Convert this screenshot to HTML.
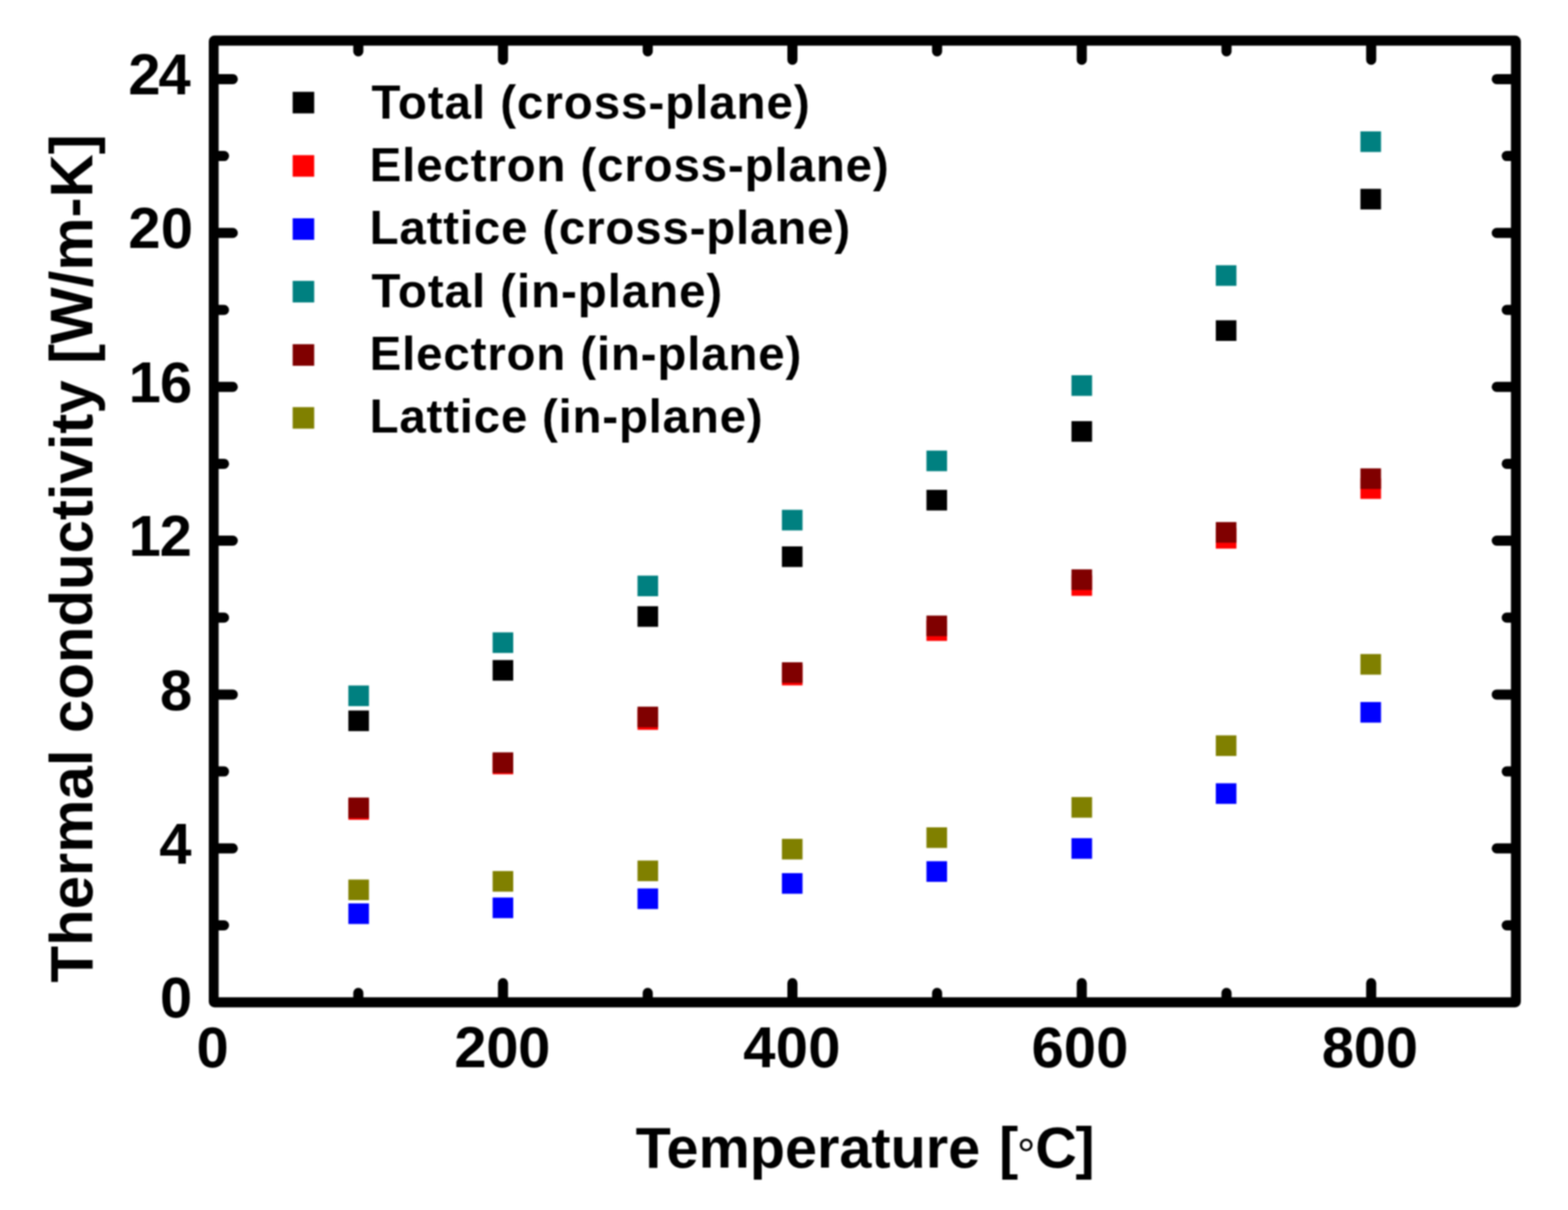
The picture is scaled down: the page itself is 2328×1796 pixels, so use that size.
<!DOCTYPE html>
<html lang="en">
<head>
<meta charset="utf-8">
<title>Thermal conductivity vs temperature</title>
<style>
html,body{margin:0;padding:0;background:#fff;}
body{width:2328px;height:1796px;overflow:hidden;}
svg{display:block;filter:blur(0.8px);}
text{font-family:"Liberation Sans",Arial,Helvetica,sans-serif;font-weight:bold;fill:#000;white-space:pre;}
.tk{font-size:86px;}
.lg{font-size:70.5px;}
.tt{font-size:85.5px;}
.yt{font-size:89px;}
</style>
</head>
<body>
<svg width="2328" height="1796" viewBox="0 0 2328 1796">
<rect x="0" y="0" width="2328" height="1796" fill="#ffffff"/>
<g>
<rect x="517.2" y="1054.6" width="30.6" height="30.6" fill="#000000"/>
<rect x="731.4" y="979.7" width="30.6" height="30.6" fill="#000000"/>
<rect x="946.5" y="899.8" width="30.6" height="30.6" fill="#000000"/>
<rect x="1160.9" y="811.0" width="30.6" height="30.6" fill="#000000"/>
<rect x="1375.5" y="727.1" width="30.6" height="30.6" fill="#000000"/>
<rect x="1590.8" y="625.1" width="30.6" height="30.6" fill="#000000"/>
<rect x="1805.1" y="475.4" width="30.6" height="30.6" fill="#000000"/>
<rect x="2019.8" y="280.3" width="30.6" height="30.6" fill="#000000"/>
<rect x="517.2" y="1186.2" width="30.6" height="30.6" fill="#ff0000"/>
<rect x="731.4" y="1118.7" width="30.6" height="30.6" fill="#ff0000"/>
<rect x="946.5" y="1052.7" width="30.6" height="30.6" fill="#ff0000"/>
<rect x="1160.9" y="986.7" width="30.6" height="30.6" fill="#ff0000"/>
<rect x="1375.5" y="920.7" width="30.6" height="30.6" fill="#ff0000"/>
<rect x="1590.8" y="853.8" width="30.6" height="30.6" fill="#ff0000"/>
<rect x="1805.1" y="783.7" width="30.6" height="30.6" fill="#ff0000"/>
<rect x="2019.8" y="709.9" width="30.6" height="30.6" fill="#ff0000"/>
<rect x="517.2" y="1340.9" width="30.6" height="30.6" fill="#0000ff"/>
<rect x="731.4" y="1332.2" width="30.6" height="30.6" fill="#0000ff"/>
<rect x="946.5" y="1318.7" width="30.6" height="30.6" fill="#0000ff"/>
<rect x="1160.9" y="1296.0" width="30.6" height="30.6" fill="#0000ff"/>
<rect x="1375.5" y="1278.3" width="30.6" height="30.6" fill="#0000ff"/>
<rect x="1590.8" y="1244.1" width="30.6" height="30.6" fill="#0000ff"/>
<rect x="1805.1" y="1162.6" width="30.6" height="30.6" fill="#0000ff"/>
<rect x="2019.8" y="1042.0" width="30.6" height="30.6" fill="#0000ff"/>
<rect x="517.2" y="1017.5" width="30.6" height="30.6" fill="#008080"/>
<rect x="731.4" y="938.6" width="30.6" height="30.6" fill="#008080"/>
<rect x="946.5" y="854.4" width="30.6" height="30.6" fill="#008080"/>
<rect x="1160.9" y="756.7" width="30.6" height="30.6" fill="#008080"/>
<rect x="1375.5" y="668.8" width="30.6" height="30.6" fill="#008080"/>
<rect x="1590.8" y="557.0" width="30.6" height="30.6" fill="#008080"/>
<rect x="1805.1" y="393.7" width="30.6" height="30.6" fill="#008080"/>
<rect x="2019.8" y="195.0" width="30.6" height="30.6" fill="#008080"/>
<rect x="517.2" y="1183.8" width="30.6" height="30.6" fill="#800000"/>
<rect x="731.4" y="1116.7" width="30.6" height="30.6" fill="#800000"/>
<rect x="946.5" y="1048.9" width="30.6" height="30.6" fill="#800000"/>
<rect x="1160.9" y="983.0" width="30.6" height="30.6" fill="#800000"/>
<rect x="1375.5" y="913.7" width="30.6" height="30.6" fill="#800000"/>
<rect x="1590.8" y="845.1" width="30.6" height="30.6" fill="#800000"/>
<rect x="1805.1" y="774.9" width="30.6" height="30.6" fill="#800000"/>
<rect x="2019.8" y="695.2" width="30.6" height="30.6" fill="#800000"/>
<rect x="517.2" y="1305.5" width="30.6" height="30.6" fill="#808000"/>
<rect x="731.4" y="1292.9" width="30.6" height="30.6" fill="#808000"/>
<rect x="946.5" y="1277.3" width="30.6" height="30.6" fill="#808000"/>
<rect x="1160.9" y="1245.1" width="30.6" height="30.6" fill="#808000"/>
<rect x="1375.5" y="1228.0" width="30.6" height="30.6" fill="#808000"/>
<rect x="1590.8" y="1183.1" width="30.6" height="30.6" fill="#808000"/>
<rect x="1805.1" y="1091.5" width="30.6" height="30.6" fill="#808000"/>
<rect x="2019.8" y="970.8" width="30.6" height="30.6" fill="#808000"/>
</g>
<g stroke="#000" stroke-width="15.0" stroke-linecap="round" fill="none">
<line x1="532.0" y1="1484.7" x2="532.0" y2="1473.8"/>
<line x1="532.0" y1="63.3" x2="532.0" y2="76.3"/>
<line x1="746.8" y1="1484.7" x2="746.8" y2="1459.3"/>
<line x1="746.8" y1="63.3" x2="746.8" y2="88.7"/>
<line x1="961.7" y1="1484.7" x2="961.7" y2="1473.8"/>
<line x1="961.7" y1="63.3" x2="961.7" y2="76.3"/>
<line x1="1176.5" y1="1484.7" x2="1176.5" y2="1459.3"/>
<line x1="1176.5" y1="63.3" x2="1176.5" y2="88.7"/>
<line x1="1391.3" y1="1484.7" x2="1391.3" y2="1473.8"/>
<line x1="1391.3" y1="63.3" x2="1391.3" y2="76.3"/>
<line x1="1606.1" y1="1484.7" x2="1606.1" y2="1459.3"/>
<line x1="1606.1" y1="63.3" x2="1606.1" y2="88.7"/>
<line x1="1821.0" y1="1484.7" x2="1821.0" y2="1473.8"/>
<line x1="1821.0" y1="63.3" x2="1821.0" y2="76.3"/>
<line x1="2035.8" y1="1484.7" x2="2035.8" y2="1459.3"/>
<line x1="2035.8" y1="63.3" x2="2035.8" y2="88.7"/>
<line x1="320.2" y1="1373.5" x2="332.6" y2="1373.5"/>
<line x1="2247.6" y1="1373.5" x2="2237.0" y2="1373.5"/>
<line x1="320.2" y1="1259.3" x2="345.6" y2="1259.3"/>
<line x1="2247.6" y1="1259.3" x2="2222.2" y2="1259.3"/>
<line x1="320.2" y1="1145.1" x2="332.6" y2="1145.1"/>
<line x1="2247.6" y1="1145.1" x2="2237.0" y2="1145.1"/>
<line x1="320.2" y1="1030.9" x2="345.6" y2="1030.9"/>
<line x1="2247.6" y1="1030.9" x2="2222.2" y2="1030.9"/>
<line x1="320.2" y1="916.7" x2="332.6" y2="916.7"/>
<line x1="2247.6" y1="916.7" x2="2237.0" y2="916.7"/>
<line x1="320.2" y1="802.5" x2="345.6" y2="802.5"/>
<line x1="2247.6" y1="802.5" x2="2222.2" y2="802.5"/>
<line x1="320.2" y1="688.4" x2="332.6" y2="688.4"/>
<line x1="2247.6" y1="688.4" x2="2237.0" y2="688.4"/>
<line x1="320.2" y1="574.2" x2="345.6" y2="574.2"/>
<line x1="2247.6" y1="574.2" x2="2222.2" y2="574.2"/>
<line x1="320.2" y1="460.0" x2="332.6" y2="460.0"/>
<line x1="2247.6" y1="460.0" x2="2237.0" y2="460.0"/>
<line x1="320.2" y1="345.8" x2="345.6" y2="345.8"/>
<line x1="2247.6" y1="345.8" x2="2222.2" y2="345.8"/>
<line x1="320.2" y1="231.6" x2="332.6" y2="231.6"/>
<line x1="2247.6" y1="231.6" x2="2237.0" y2="231.6"/>
<line x1="320.2" y1="117.4" x2="345.6" y2="117.4"/>
<line x1="2247.6" y1="117.4" x2="2222.2" y2="117.4"/>
</g>
<path d="M318.5 52.7 H2249.5 A8.5 8.5 0 0 1 2258.0 61.2 V1486.8 A8.5 8.5 0 0 1 2249.5 1495.3 H318.5 A8.5 8.5 0 0 1 310.0 1486.8 V61.2 A8.5 8.5 0 0 1 318.5 52.7 Z M324.6 67.8 V1480.2 H2243.3 V67.8 Z" fill="#000" fill-rule="evenodd"/>
<rect x="434.5" y="136.3" width="32.0" height="32.0" fill="#000000"/>
<rect x="434.5" y="230.3" width="32.0" height="32.0" fill="#ff0000"/>
<rect x="434.5" y="324.0" width="32.0" height="32.0" fill="#0000ff"/>
<rect x="434.5" y="416.9" width="32.0" height="32.0" fill="#008080"/>
<rect x="434.5" y="510.9" width="32.0" height="32.0" fill="#800000"/>
<rect x="434.5" y="604.3" width="32.0" height="32.0" fill="#808000"/>
<text class="lg" x="551.5" y="175.7" letter-spacing="1.40">Total (cross-plane)</text>
<text class="lg" x="548.8" y="268.6" letter-spacing="1.25">Electron (cross-plane)</text>
<text class="lg" x="548.8" y="361.5" letter-spacing="1.19">Lattice (cross-plane)</text>
<text class="lg" x="551.5" y="455.6" letter-spacing="1.39">Total (in-plane)</text>
<text class="lg" x="548.8" y="548.8" letter-spacing="1.22">Electron (in-plane)</text>
<text class="lg" x="548.8" y="642.3" letter-spacing="1.14">Lattice (in-plane)</text>
<text class="tk" x="190.6" y="140.0" letter-spacing="-3.23">24</text>
<text class="tk" x="190.4" y="368.4" letter-spacing="0.57">20</text>
<text class="tk" x="191.0" y="596.8" letter-spacing="-1.23">16</text>
<text class="tk" x="191.0" y="825.1" letter-spacing="-1.73">12</text>
<text class="tk" x="237.5" y="1053.5" letter-spacing="0.00">8</text>
<text class="tk" x="236.6" y="1281.9" letter-spacing="0.00">4</text>
<text class="tk" x="237.4" y="1510.3" letter-spacing="0.00">0</text>
<text class="tk" x="291.8" y="1584.2" letter-spacing="0.00">0</text>
<text class="tk" x="674.5" y="1584.2" letter-spacing="-0.43">200</text>
<text class="tk" x="1103.5" y="1584.2" letter-spacing="0.37">400</text>
<text class="tk" x="1531.6" y="1584.2" letter-spacing="0.07">600</text>
<text class="tk" x="1962.5" y="1584.2" letter-spacing="-0.33">800</text>
<text class="tt" x="943.7" y="1732.8" letter-spacing="0.01">Temperature <tspan x="1483.2" y="1732.8">[</tspan><tspan x="1510.0" y="1738.1" style="font-weight:normal;font-size:68px">°</tspan><tspan x="1537.1" y="1732.8" letter-spacing="-2.15">C]</tspan></text>
<text class="yt" transform="translate(137.3,1457.4) rotate(-90)" x="-1.0" y="0" letter-spacing="-0.07">Thermal conductivity [W/m-K]</text>
</svg>
</body>
</html>
